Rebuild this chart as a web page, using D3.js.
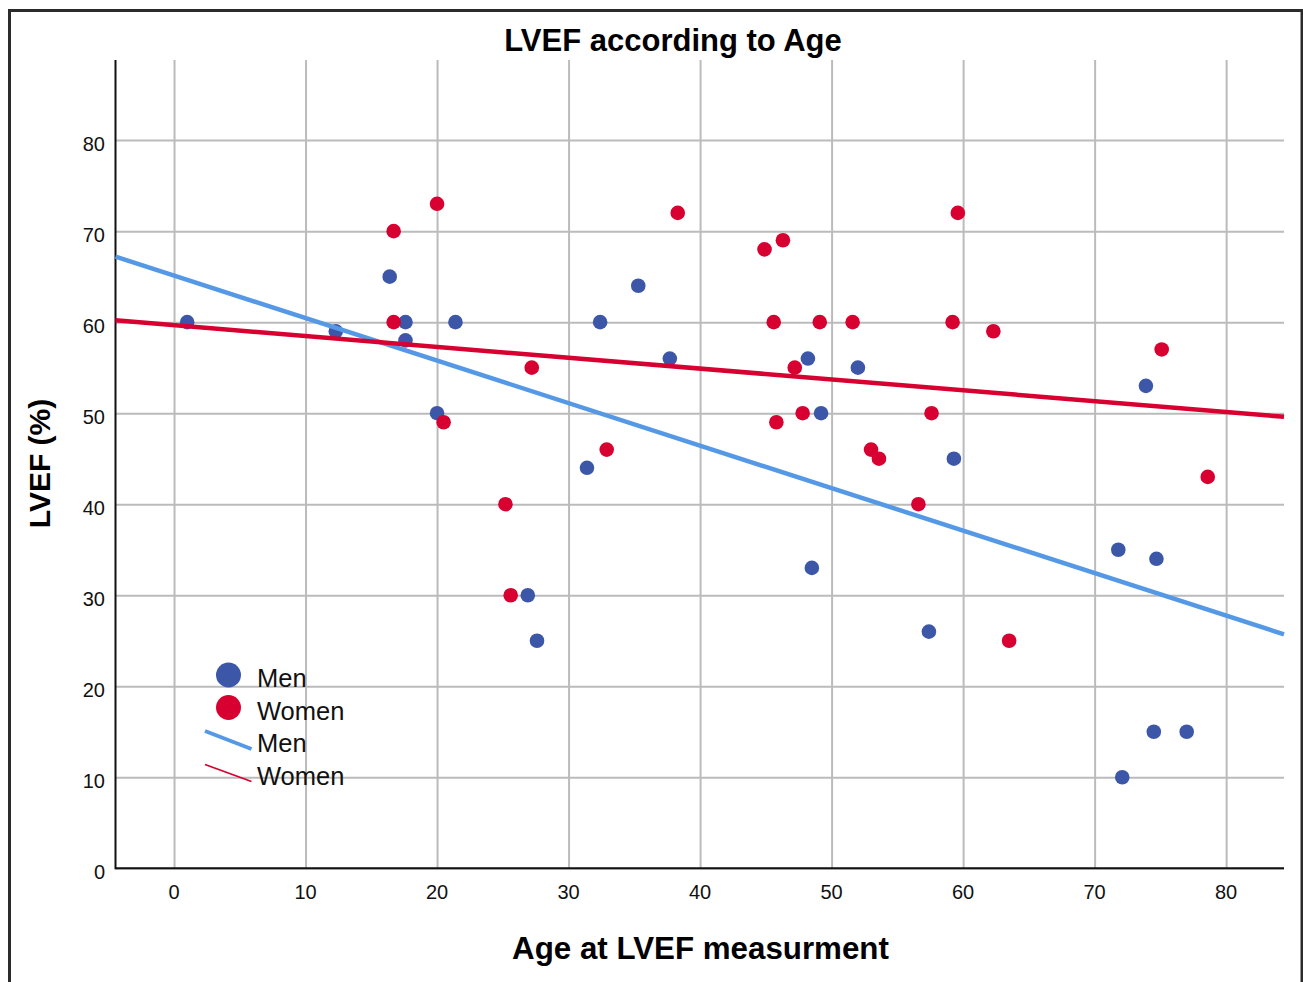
<!DOCTYPE html>
<html>
<head>
<meta charset="utf-8">
<script src="https://d3js.org/d3.v7.min.js"></script>
<style>
 body {margin: 0; background: #fff;}
 text {font-family: "Liberation Sans", Arial, sans-serif;}
</style>
</head>
<body>
<svg width="1303" height="982"></svg>
<script>

const menAge  = [1.0, 12.3, 16.4, 17.6, 17.6, 20.0, 21.4, 26.9, 27.6, 31.4, 32.4, 35.3, 37.7,
                 48.2, 49.2, 48.5, 52.0, 57.4, 59.3, 71.8, 74.7, 73.9, 72.1, 74.5, 77.0];
const menEF   = [60, 59, 65, 60, 58, 50, 60, 30, 25, 44, 60, 64, 56,
                 56, 50, 33, 55, 26, 45, 35, 34, 53, 10, 15, 15];
const womenAge = [16.7, 16.7, 20.0, 20.5, 25.2, 25.6, 27.2, 32.9, 38.3, 44.9, 46.3, 45.6, 45.8,
                  47.2, 47.8, 49.1, 51.6, 53.0, 53.6, 56.6, 57.6, 59.2, 59.6, 62.3, 63.5, 75.1, 78.6];
const womenEF  = [70, 60, 73, 49, 40, 30, 55, 46, 72, 68, 69, 60, 49,
                  55, 50, 60, 60, 46, 45, 40, 50, 60, 72, 59, 25, 57, 43];
// fit line end points (age, LVEF)
const menFit   = [[-4.45, 67.2], [84.4, 25.7]];
const womenFit = [[-4.45, 60.2], [84.4, 49.6]];
const xTicks = [0, 10, 20, 30, 40, 50, 60, 70, 80];
const yTicks = [0, 10, 20, 30, 40, 50, 60, 70, 80];

const svg = d3.select('svg');
const pL = 115.5, pR = 1284, pT = 60, pB = 868.3;

var x = d3.scaleLinear().domain([-4.45, 84.4]).range([pL, pR]);
var y = d3.scaleLinear().domain([0, 88.8]).range([pB, pT]);

// outer frame
svg.append('rect')
  .attr('x', 9.5).attr('y', 10.5).attr('width', 1292.5).attr('height', 1000)
  .attr('fill', 'none').attr('stroke', '#2b2b2b').attr('stroke-width', 3);

// grid
svg.append('g')
  .attr('transform', 'translate(0,' + pB + ')')
  .call(d3.axisBottom(x).tickValues(xTicks).tickSize(-(pB - pT)).tickFormat(''))
  .call(g => g.select('.domain').remove())
  .selectAll('line').attr('stroke', '#bbbbbb').attr('stroke-width', 2);

svg.append('g')
  .attr('transform', 'translate(' + pL + ',0)')
  .call(d3.axisLeft(y).tickValues(yTicks).tickSize(-(pR - pL)).tickFormat(''))
  .call(g => g.select('.domain').remove())
  .selectAll('line').attr('stroke', '#bbbbbb').attr('stroke-width', 2);

// axis lines
svg.append('line').attr('x1', pL).attr('x2', pL).attr('y1', pT).attr('y2', pB + 1)
  .attr('stroke', '#111').attr('stroke-width', 2);
svg.append('line').attr('x1', pL).attr('x2', pR).attr('y1', pB).attr('y2', pB)
  .attr('stroke', '#111').attr('stroke-width', 2);

// tick labels
svg.selectAll('.ylab').data(yTicks).enter().append('text')
  .attr('x', 105).attr('y', d => y(d) + 11)
  .attr('text-anchor', 'end').attr('font-size', 20).attr('fill', '#111')
  .text(d => d);
svg.selectAll('.xlab').data(xTicks).enter().append('text')
  .attr('x', d => x(d)).attr('y', 899)
  .attr('text-anchor', 'middle').attr('font-size', 20).attr('fill', '#111')
  .text(d => d);

// points
const men = menAge.map((a, i) => [a, menEF[i]]);
const women = womenAge.map((a, i) => [a, womenEF[i]]);

svg.append('g').selectAll('circle').data(men).enter().append('circle')
  .attr('cx', d => x(d[0])).attr('cy', d => y(d[1])).attr('r', 7.3)
  .attr('fill', '#3d57a8');
svg.append('g').selectAll('circle').data(women).enter().append('circle')
  .attr('cx', d => x(d[0])).attr('cy', d => y(d[1])).attr('r', 7.3)
  .attr('fill', '#d70030');

// fit lines
var line = d3.line().x(d => x(d[0])).y(d => y(d[1]));
svg.append('path').attr('d', line(menFit))
  .attr('fill', 'none').attr('stroke', '#5599e6').attr('stroke-width', 4.5);
svg.append('path').attr('d', line(womenFit))
  .attr('fill', 'none').attr('stroke', '#d70030').attr('stroke-width', 4.5);

// legend
const lg = svg.append('g');
lg.append('circle').attr('cx', 228.5).attr('cy', 675).attr('r', 12.5).attr('fill', '#3d57a8');
lg.append('circle').attr('cx', 228.5).attr('cy', 707.5).attr('r', 12.5).attr('fill', '#d70030');
lg.append('line').attr('x1', 205).attr('y1', 731).attr('x2', 251.5).attr('y2', 749)
  .attr('stroke', '#5599e6').attr('stroke-width', 4);
lg.append('line').attr('x1', 205).attr('y1', 764.5).attr('x2', 251.5).attr('y2', 781.5)
  .attr('stroke', '#d70030').attr('stroke-width', 1.8);
const legTxt = [['Men', 687], ['Women', 719.5], ['Men', 752], ['Women', 784.5]];
lg.selectAll('text').data(legTxt).enter().append('text')
  .attr('x', 257).attr('y', d => d[1]).attr('font-size', 25.5).attr('fill', '#111')
  .text(d => d[0]);

// titles
svg.append('text').attr('x', 673).attr('y', 50.5)
  .attr('text-anchor', 'middle').attr('font-size', 31).attr('font-weight', 'bold')
  .text('LVEF according to Age');
svg.append('text').attr('x', 700.5).attr('y', 959)
  .attr('text-anchor', 'middle').attr('font-size', 31.3).attr('font-weight', 'bold')
  .text('Age at LVEF measurment');
svg.append('text')
  .attr('transform', 'translate(50,463.5) rotate(-90)')
  .attr('text-anchor', 'middle').attr('font-size', 30).attr('font-weight', 'bold')
  .text('LVEF (%)');

</script>
</body>
</html>
